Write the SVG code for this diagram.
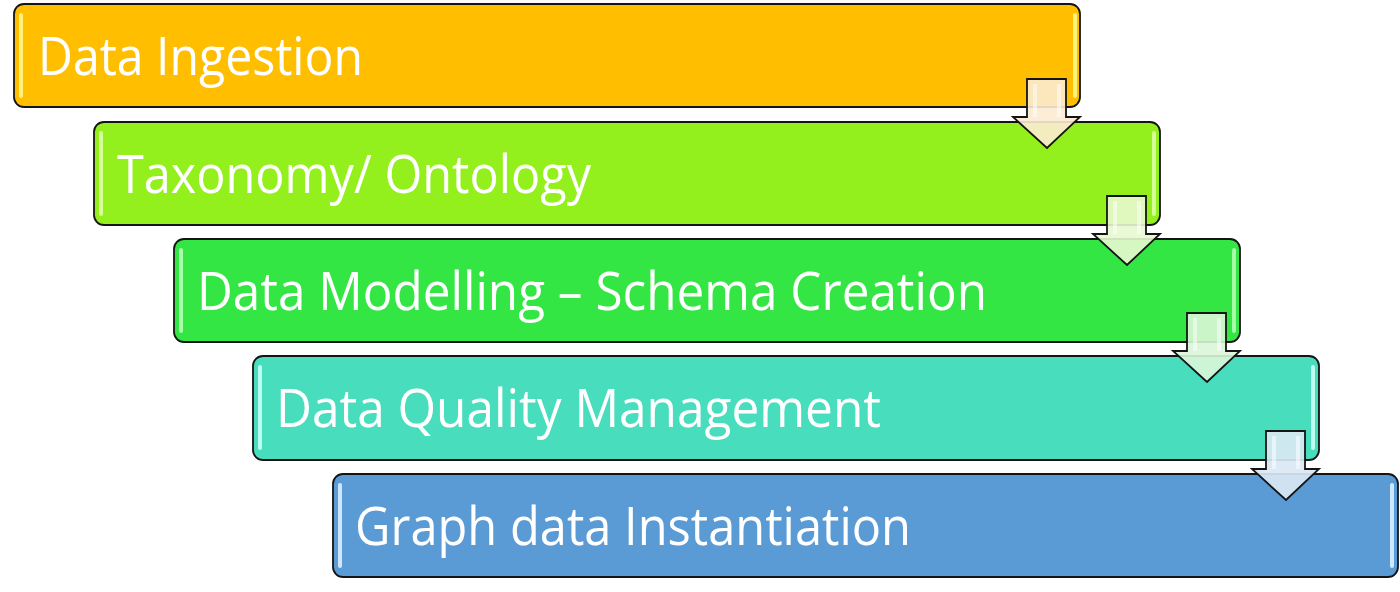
<svg xmlns="http://www.w3.org/2000/svg" width="1400" height="592" viewBox="0 0 1400 592">
<style>
.box{stroke:#141414;stroke-width:1.8}
.hl{stroke:none}
.lbl{font-family:"Open Sans","Noto Sans","Liberation Sans",sans-serif;font-size:53px;fill:#ffffff}
.arr{stroke:#141414;stroke-width:1.8;stroke-linejoin:miter}
.ahl{fill:#ffffff;opacity:0.5}
</style>
<rect width="1400" height="592" fill="#ffffff"/>
<g id="step1">
<rect class="box" x="14" y="4" width="1066" height="103" rx="10" fill="#FFBF00"/>
<rect class="hl" x="19" y="13" width="4" height="85" rx="2" fill="#FFF27A"/>
<rect class="hl" x="1073" y="13" width="4" height="85" rx="2" fill="#FFF27A"/>
<text class="lbl" x="38" y="75" textLength="325" lengthAdjust="spacingAndGlyphs">Data Ingestion</text>
</g>
<g id="step2">
<rect class="box" x="94" y="122" width="1066" height="103" rx="10" fill="#94F01C"/>
<rect class="hl" x="99" y="131" width="4" height="85" rx="2" fill="#D6FF98"/>
<rect class="hl" x="1152" y="131" width="4" height="85" rx="2" fill="#D6FF98"/>
<text class="lbl" x="117" y="193" textLength="474" lengthAdjust="spacingAndGlyphs">Taxonomy/ Ontology</text>
</g>
<g id="step3">
<rect class="box" x="174" y="239" width="1066" height="103" rx="10" fill="#33E644"/>
<rect class="hl" x="179" y="248" width="4" height="85" rx="2" fill="#A6FFA8"/>
<rect class="hl" x="1232" y="248" width="4" height="85" rx="2" fill="#A6FFA8"/>
<text class="lbl" x="197" y="310" textLength="790" lengthAdjust="spacingAndGlyphs">Data Modelling – Schema Creation</text>
</g>
<g id="step4">
<rect class="box" x="253" y="356" width="1066" height="104" rx="10" fill="#47DDBD"/>
<rect class="hl" x="258" y="365" width="4" height="85" rx="2" fill="#BDFFF0"/>
<rect class="hl" x="1311" y="365" width="4" height="85" rx="2" fill="#BDFFF0"/>
<text class="lbl" x="276" y="427" textLength="605" lengthAdjust="spacingAndGlyphs">Data Quality Management</text>
</g>
<g id="step5">
<rect class="box" x="333" y="474" width="1065" height="103" rx="10" fill="#5B9BD5"/>
<rect class="hl" x="338" y="483" width="4" height="85" rx="2" fill="#CFE6FF"/>
<rect class="hl" x="1390" y="483" width="4" height="85" rx="2" fill="#CFE6FF"/>
<text class="lbl" x="355" y="545" textLength="556" lengthAdjust="spacingAndGlyphs">Graph data Instantiation</text>
</g>
<g id="connectors">
<g id="arrow1">
<path class="arr" d="M1027,79 H1066 V117 H1080 L1047,148 L1013,117 H1027 Z" fill="#FCEBD2" fill-opacity="0.9"/>
<rect class="ahl" x="1033" y="84" width="4" height="33"/>
<rect class="ahl" x="1057" y="84" width="4" height="33"/>
</g>
<g id="arrow2">
<path class="arr" d="M1107,196 H1146 V234 H1160 L1127,265 L1093,234 H1107 Z" fill="#E8F8D0" fill-opacity="0.9"/>
<rect class="ahl" x="1113" y="201" width="4" height="33"/>
<rect class="ahl" x="1137" y="201" width="4" height="33"/>
</g>
<g id="arrow3">
<path class="arr" d="M1187,313 H1226 V351 H1240 L1207,382 L1173,351 H1187 Z" fill="#DAF6D8" fill-opacity="0.9"/>
<rect class="ahl" x="1193" y="318" width="4" height="33"/>
<rect class="ahl" x="1217" y="318" width="4" height="33"/>
</g>
<g id="arrow4">
<path class="arr" d="M1266,431 H1305 V469 H1319 L1286,500 L1252,469 H1266 Z" fill="#DAE8F4" fill-opacity="0.92"/>
<rect class="ahl" x="1272" y="436" width="4" height="33"/>
<rect class="ahl" x="1296" y="436" width="4" height="33"/>
</g>
</g>
</svg>
